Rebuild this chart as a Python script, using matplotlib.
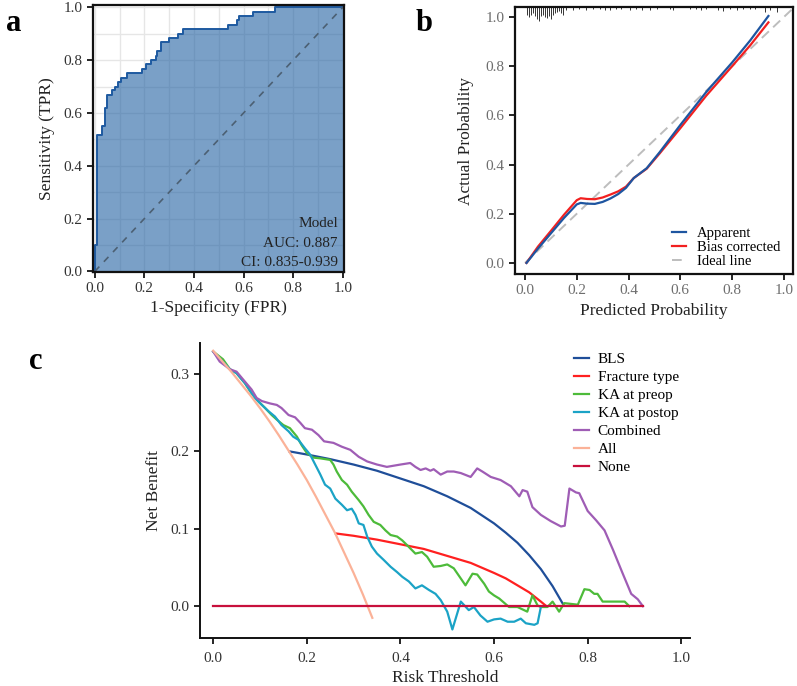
import numpy as np
import matplotlib
matplotlib.use("Agg")
import matplotlib.pyplot as plt

plt.rcParams["font.family"] = ["Liberation Serif", "DejaVu Serif"]

# ---- panel a: ROC steps (fpr where the step happens, new tpr)
roc_fpr = [0.0, 0.0, 0.009, 0.031, 0.040, 0.048, 0.071, 0.080, 0.094, 0.104, 0.128,
           0.190, 0.207, 0.225, 0.245, 0.252, 0.268, 0.301, 0.335, 0.357, 0.538,
           0.572, 0.582, 0.639, 0.726, 1.0]
roc_tpr = [0.0, 0.10, 0.517, 0.55, 0.617, 0.667, 0.686, 0.70, 0.717, 0.733, 0.75,
           0.767, 0.784, 0.80, 0.817, 0.833, 0.867, 0.883, 0.90, 0.917, 0.933,
           0.95, 0.967, 0.983, 1.0, 1.0]
roc_text = ["Model", "AUC: 0.887", "CI: 0.835-0.939"]

# ---- panel b: calibration
cal_x = [0.006, 0.05, 0.10, 0.15, 0.20, 0.215, 0.24, 0.27, 0.30, 0.33, 0.36, 0.39,
         0.42, 0.47, 0.52, 0.60, 0.70, 0.80, 0.87, 0.94]
cal_apparent = [0.0, 0.058, 0.12, 0.182, 0.238, 0.244, 0.241, 0.240, 0.248, 0.262,
                0.28, 0.305, 0.345, 0.385, 0.45, 0.561, 0.695, 0.815, 0.905, 1.004]
cal_bias = [0.0, 0.066, 0.13, 0.195, 0.255, 0.263, 0.260, 0.259, 0.266, 0.278,
            0.291, 0.31, 0.345, 0.383, 0.445, 0.548, 0.68, 0.80, 0.885, 0.978]
rug_x = [0.009, 0.016, 0.023, 0.030, 0.037, 0.045, 0.053, 0.060, 0.068, 0.076, 0.084,
         0.092, 0.099, 0.107, 0.115, 0.123, 0.131, 0.139, 0.146, 0.160, 0.187, 0.21,
         0.237, 0.264, 0.29, 0.31, 0.328, 0.35, 0.37, 0.405, 0.43, 0.45, 0.483, 0.51,
         0.56, 0.57, 0.637, 0.66, 0.68, 0.70, 0.745, 0.766, 0.79, 0.82, 0.843, 0.87,
         0.89, 0.927, 0.945, 0.972]
rug_h = [0.03, 0.04, 0.03, 0.025, 0.035, 0.048, 0.058, 0.035, 0.03, 0.04, 0.045, 0.035,
         0.05, 0.03, 0.022, 0.018, 0.014, 0.022, 0.03, 0.01, 0.012, 0.008, 0.01, 0.008,
         0.008, 0.01, 0.012, 0.008, 0.008, 0.01, 0.008, 0.01, 0.012, 0.008, 0.008, 0.01,
         0.008, 0.008, 0.01, 0.008, 0.012, 0.014, 0.008, 0.01, 0.008, 0.008, 0.008,
         0.018, 0.012, 0.018]

# ---- panel c: decision curves
all_t = [0.0, 0.02, 0.04, 0.06, 0.08, 0.10, 0.12, 0.14, 0.16, 0.18, 0.20, 0.22,
         0.24, 0.26, 0.28, 0.30, 0.32, 0.34]
all_nb = [0.330, 0.316, 0.302, 0.287, 0.272, 0.256, 0.239, 0.221, 0.202, 0.183,
          0.163, 0.141, 0.118, 0.095, 0.069, 0.043, 0.015, -0.015]

bls_t = [0.163, 0.2, 0.25, 0.3, 0.35, 0.4, 0.45, 0.5, 0.55, 0.6, 0.625, 0.65,
         0.675, 0.7, 0.725, 0.749]
bls_nb = [0.200, 0.196, 0.190, 0.183, 0.175, 0.165, 0.155, 0.142, 0.127, 0.107,
          0.095, 0.082, 0.066, 0.048, 0.026, 0.001]

frac_t = [0.262, 0.3, 0.35, 0.4, 0.45, 0.5, 0.55, 0.6, 0.625, 0.65, 0.675, 0.7, 0.712]
frac_nb = [0.094, 0.091, 0.086, 0.080, 0.074, 0.065, 0.056, 0.043, 0.036, 0.027,
           0.018, 0.006, 0.0]

pre_t = [0.0, 0.021, 0.036, 0.05, 0.068, 0.082, 0.096, 0.111, 0.125, 0.136, 0.15,
         0.164, 0.179, 0.189, 0.2, 0.214, 0.229, 0.25, 0.257, 0.264, 0.275, 0.286,
         0.296, 0.311, 0.321, 0.332, 0.343, 0.357, 0.368, 0.379, 0.393, 0.404, 0.414,
         0.432, 0.446, 0.457, 0.471, 0.486, 0.5, 0.514, 0.539, 0.554, 0.564, 0.579,
         0.589, 0.6, 0.611, 0.632, 0.65, 0.671, 0.682, 0.693, 0.7, 0.714, 0.725,
         0.739, 0.75, 0.779, 0.793, 0.804, 0.814, 0.821, 0.832, 0.879, 0.889]
pre_nb = [0.329, 0.319, 0.306, 0.301, 0.288, 0.275, 0.265, 0.256, 0.247, 0.241,
          0.234, 0.230, 0.219, 0.208, 0.198, 0.192, 0.191, 0.189, 0.183, 0.174,
          0.163, 0.157, 0.148, 0.137, 0.129, 0.118, 0.109, 0.105, 0.098, 0.092,
          0.090, 0.085, 0.079, 0.068, 0.070, 0.064, 0.051, 0.052, 0.054, 0.049,
          0.027, 0.042, 0.041, 0.029, 0.019, 0.014, 0.010, -0.001, -0.001, -0.007,
          0.014, 0.001, -0.001, -0.001, 0.006, -0.007, 0.004, 0.002, 0.022, 0.021,
          0.016, 0.016, 0.006, 0.006, 0.0]

post_t = [0.0, 0.036, 0.05, 0.068, 0.089, 0.104, 0.118, 0.132, 0.146, 0.161, 0.171,
          0.182, 0.196, 0.207, 0.218, 0.229, 0.239, 0.25, 0.261, 0.275, 0.286, 0.296,
          0.304, 0.311, 0.321, 0.329, 0.339, 0.35, 0.364, 0.379, 0.393, 0.404, 0.418,
          0.432, 0.446, 0.461, 0.475, 0.486, 0.5, 0.511, 0.529, 0.546, 0.557, 0.571,
          0.586, 0.6, 0.614, 0.629, 0.643, 0.657, 0.668, 0.686, 0.693, 0.7]
post_nb = [0.329, 0.306, 0.301, 0.288, 0.269, 0.260, 0.252, 0.245, 0.234, 0.226,
           0.219, 0.215, 0.204, 0.196, 0.183, 0.170, 0.157, 0.152, 0.139, 0.131,
           0.124, 0.126, 0.118, 0.107, 0.105, 0.090, 0.077, 0.068, 0.060, 0.051,
           0.044, 0.038, 0.032, 0.023, 0.027, 0.021, 0.016, 0.008, -0.007, -0.030,
           0.006, -0.005, -0.001, -0.012, -0.020, -0.017, -0.016, -0.020, -0.020,
           -0.016, -0.022, -0.024, -0.022, -0.001]

comb_t = [0.0, 0.014, 0.036, 0.05, 0.068, 0.082, 0.093, 0.104, 0.121, 0.136, 0.146,
          0.161, 0.175, 0.186, 0.196, 0.211, 0.225, 0.237, 0.257, 0.275, 0.293, 0.311,
          0.329, 0.35, 0.371, 0.4, 0.421, 0.432, 0.443, 0.454, 0.464, 0.471, 0.486,
          0.5, 0.514, 0.529, 0.55, 0.564, 0.575, 0.593, 0.614, 0.636, 0.654, 0.661,
          0.671, 0.682, 0.7, 0.721, 0.743, 0.751, 0.761, 0.775, 0.782, 0.8, 0.818,
          0.836, 0.854, 0.875, 0.893, 0.907, 0.918]
comb_nb = [0.329, 0.316, 0.306, 0.303, 0.290, 0.280, 0.269, 0.265, 0.262, 0.260,
           0.256, 0.247, 0.244, 0.237, 0.230, 0.228, 0.221, 0.213, 0.211, 0.206,
           0.202, 0.193, 0.187, 0.183, 0.180, 0.183, 0.185, 0.180, 0.176, 0.178,
           0.175, 0.177, 0.170, 0.174, 0.174, 0.172, 0.167, 0.178, 0.174, 0.167,
           0.163, 0.155, 0.142, 0.150, 0.148, 0.128, 0.118, 0.110, 0.103, 0.104,
           0.152, 0.147, 0.146, 0.123, 0.111, 0.098, 0.073, 0.042, 0.016, 0.009, 0.0]

none_t = [0.0, 0.918]
none_nb = [0.0, 0.0]

fig = plt.figure(figsize=(7.97, 6.86), dpi=100)

# ================= a =================
axa = fig.add_axes([0.1167, 0.6035, 0.315, 0.389])
axa.set_xlim(-0.007, 1.005)
axa.set_ylim(-0.002, 1.008)
axa.set_xticks(np.arange(0, 1.01, 0.2))
axa.set_yticks(np.arange(0, 1.01, 0.2))
axa.set_xticks(np.arange(0.1, 1.0, 0.2), minor=True)
axa.set_yticks(np.arange(0.1, 1.0, 0.2), minor=True)
axa.grid(True, which="both", color="#E6E6E6", lw=1.0)
axa.tick_params(which="minor", length=0)
axa.set_axisbelow(True)
axa.fill_between(roc_fpr, roc_tpr, step="post", color="#2161A3", alpha=0.6, lw=0)
axa.plot(roc_fpr, roc_tpr, drawstyle="steps-post", color="#1E5AA0", lw=1.4)
axa.plot([0, 1], [0, 1], ls=(0, (4, 4)), color="#4C6073", lw=1.2)
for i, s in enumerate(roc_text):
    axa.text(0.98, 0.18 - i * 0.073, s, ha="right", va="center", fontsize=11, color="#222222")
axa.set_xlabel("1-Specificity (FPR)", fontsize=12.5, color="#222222", labelpad=3)
axa.set_ylabel("Sensitivity (TPR)", fontsize=12.5, color="#222222", labelpad=6)
for sp in axa.spines.values():
    sp.set_linewidth(1.6)
    sp.set_color("#111111")
axa.tick_params(labelsize=11, labelcolor="#333333", length=4, width=1.2)
axa.set_xticklabels(["0.0", "0.2", "0.4", "0.6", "0.8", "1.0"])
axa.set_yticklabels(["0.0", "0.2", "0.4", "0.6", "0.8", "1.0"])

# ================= b =================
axb = fig.add_axes([0.646, 0.6006, 0.349, 0.389])
axb.set_xlim(-0.039, 1.035)
axb.set_ylim(-0.045, 1.04)
axb.plot([0, 1.035], [0, 1.035], ls=(0, (5, 3)), color="#BDBDBD", lw=1.4, label="Ideal line")
axb.plot(cal_x, cal_bias, color="#F22020", lw=1.6, label="Bias corrected", zorder=3)
axb.plot(cal_x, cal_apparent, color="#1E55A0", lw=1.6, label="Apparent", zorder=4)
axb.vlines(rug_x, [1.04 - h for h in rug_h], 1.04, color="#333333", lw=0.7)
axb.set_xticks(np.arange(0, 1.01, 0.2))
axb.set_yticks(np.arange(0, 1.01, 0.2))
axb.set_xticklabels(["0.0", "0.2", "0.4", "0.6", "0.8", "1.0"])
axb.set_yticklabels(["0.0", "0.2", "0.4", "0.6", "0.8", "1.0"])
axb.tick_params(labelsize=11, labelcolor="#6E6E6E", length=4, width=1.2)
for sp in axb.spines.values():
    sp.set_linewidth(1.6)
    sp.set_color("#111111")
axb.set_xlabel("Predicted Probability", fontsize=12.5, color="#222222", labelpad=4)
axb.set_ylabel("Actual Probability", fontsize=12.5, color="#222222", labelpad=8)
h, l = axb.get_legend_handles_labels()
axb.legend([h[2], h[1], h[0]], [l[2], l[1], l[0]], loc="lower right",
           bbox_to_anchor=(1.0, -0.028), frameon=False, fontsize=10.5,
           handlelength=1.0, labelspacing=0.05, handletextpad=0.7)

# ================= c =================
axc = fig.add_axes([0.251, 0.070, 0.615, 0.430])
axc.plot(bls_t, bls_nb, color="#1F4E99", lw=1.6, label="BLS")
axc.plot(frac_t, frac_nb, color="#FF2020", lw=1.6, label="Fracture type")
axc.plot(pre_t, pre_nb, color="#4DBB3A", lw=1.6, label="KA at preop")
axc.plot(post_t, post_nb, color="#1BA3C6", lw=1.6, label="KA at postop")
axc.plot(comb_t, comb_nb, color="#9F5DB5", lw=1.6, label="Combined")
axc.plot(all_t, all_nb, color="#FBB298", lw=1.6, label="All")
axc.plot(none_t, none_nb, color="#C8103C", lw=1.6, label="None")
axc.set_xlim(-0.028, 1.019)
axc.set_ylim(-0.041, 0.340)
axc.set_xticks(np.arange(0, 1.01, 0.2))
axc.set_yticks([0.0, 0.1, 0.2, 0.3])
axc.set_xticklabels(["0.0", "0.2", "0.4", "0.6", "0.8", "1.0"])
axc.set_yticklabels(["0.0", "0.1", "0.2", "0.3"])
axc.spines["top"].set_visible(False)
axc.spines["right"].set_visible(False)
for s in ["left", "bottom"]:
    axc.spines[s].set_linewidth(1.4)
    axc.spines[s].set_color("#111111")
axc.tick_params(labelsize=11, labelcolor="#333333", length=4, width=1.2)
axc.tick_params(axis="x", pad=6)
axc.set_xlabel("Risk Threshold", fontsize=12.5, color="#222222", labelpad=4)
axc.set_ylabel("Net Benefit", fontsize=12.5, color="#222222", labelpad=6)
axc.legend(loc="upper left", bbox_to_anchor=(0.735, 1.015), frameon=False,
           fontsize=11, handlelength=1.0, labelspacing=0.28, handletextpad=0.55)

# panel letters
fig.text(0.008, 0.955, "a", fontsize=22, fontweight="bold")
fig.text(0.522, 0.955, "b", fontsize=22, fontweight="bold")
fig.text(0.036, 0.462, "c", fontsize=22, fontweight="bold")

fig.savefig("out.png", dpi=100)
